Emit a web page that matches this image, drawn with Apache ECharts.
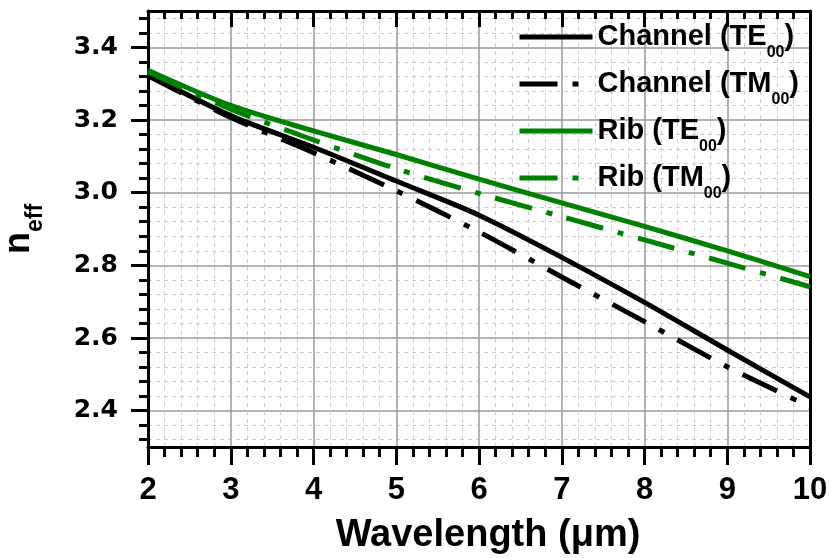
<!DOCTYPE html>
<html><head><meta charset="utf-8">
<script src="https://cdn.jsdelivr.net/npm/echarts@6/dist/echarts.min.js"></script>
<style>html,body{margin:0;padding:0;background:#fff}#c{width:830px;height:558px}</style>
</head><body><div id="c"></div>
<script>
const wavelengths = [2, 3, 4, 5, 6, 7, 8, 9, 10];
const channelTE = [3.325, 3.212, 3.125, 3.032, 2.938, 2.822, 2.698, 2.567, 2.438];
const channelTM = [3.322, 3.207, 3.110, 3.005, 2.892, 2.768, 2.645, 2.521, 2.411];
const ribTE = [3.337, 3.240, 3.170, 3.105, 3.037, 2.972, 2.907, 2.840, 2.769];
const ribTM = [3.333, 3.230, 3.145, 3.066, 2.998, 2.934, 2.870, 2.806, 2.741];
const seriesNames = ['Channel (TE00)', 'Channel (TM00)', 'Rib (TE00)', 'Rib (TM00)'];
const yMajorTicks = [2.4, 2.6, 2.8, 3.0, 3.2, 3.4];
const yMinorTicks = [2.32, 2.36, 2.44, 2.48, 2.52, 2.56, 2.64, 2.68, 2.72, 2.76, 2.84, 2.88, 2.92, 2.96,
  3.04, 3.08, 3.12, 3.16, 3.24, 3.28, 3.32, 3.36, 3.44, 3.48];
const xTitle = 'Wavelength (\u03bcm)';

const BLACK = '#000000', GREEN = '#008000';
const DASHDOT = [38, 15, 6, 15];
const FONT = 'Liberation Sans';

function mk(name, vals, color, dashed) {
  return {
    name: name, type: 'line', symbol: 'none', xAxisIndex: 0, yAxisIndex: 0,
    smooth: 0.3,
    data: wavelengths.map((x, i) => [x, vals[i]]),
    lineStyle: { color: color, width: 5, type: dashed ? DASHDOT : 'solid', cap: 'butt', join: 'round' },
    itemStyle: { color: color },
    emphasis: { disabled: true }
  };
}

const chart = echarts.init(document.getElementById('c'), null, { renderer: 'canvas' });
const axisLineStyle = { color: BLACK, width: 3 };
chart.setOption({
  animation: false,
  backgroundColor: '#fff',
  grid: { left: 148, right: 20, top: 11, bottom: 111, containLabel: false, outerBoundsMode: 'none' },
  legend: {
    orient: 'vertical', left: 517, top: 13, padding: 0,
    itemWidth: 73, itemHeight: 2, itemGap: -1,
    selectedMode: false,
    itemStyle: { opacity: 0 },
    lineStyle: { width: 5 },
    data: seriesNames,
    formatter: function (n) {
      const m = n.match(/^(.*)00\)$/);
      return '{a|' + m[1] + '}{s|00}{a|)}';
    },
    textStyle: {
      rich: {
        a: { fontFamily: FONT, fontWeight: 'bold', fontSize: 29, lineHeight: 32, color: BLACK },
        s: { fontFamily: FONT, fontWeight: 'bold', fontSize: 16, lineHeight: 16, padding: [32, 0, 0, 0], color: BLACK }
      }
    }
  },
  xAxis: [
    {
      type: 'value', position: 'bottom', min: 2, max: 10, interval: 1,
      name: xTitle, nameLocation: 'middle', nameGap: 69,
      nameTextStyle: { fontFamily: FONT, fontWeight: 'bold', fontSize: 38, lineHeight: 40, color: BLACK, padding: [0, 0, 0, 18] },
      axisLine: { show: true, onZero: false, lineStyle: axisLineStyle },
      axisTick: { show: true, length: 18, lineStyle: { color: BLACK, width: 3 } },
      minorTick: { show: true, splitNumber: 5, length: 10, lineStyle: { color: BLACK, width: 3 } },
      axisLabel: { margin: 27, fontFamily: FONT, fontWeight: 'bold', fontSize: 31, lineHeight: 32, color: BLACK },
      splitLine: { show: true, lineStyle: { color: '#9a9a9a', width: 1.5 } },
      minorSplitLine: { show: true, lineStyle: { color: '#cccccc', width: 1, type: [4, 4] } }
    },
    {
      type: 'value', position: 'top', min: 2, max: 10, interval: 1,
      axisLine: { show: true, onZero: false, lineStyle: axisLineStyle },
      axisTick: { show: true, inside: true, length: 16, lineStyle: { color: BLACK, width: 3 } },
      minorTick: { show: true, splitNumber: 5, length: 8, lineStyle: { color: BLACK, width: 3 } },
      axisLabel: { show: false },
      splitLine: { show: false }
    }
  ],
  yAxis: [
    {
      type: 'value', position: 'left', min: 2.3, max: 3.5,
      name: '{n|n}{s|eff}', nameLocation: 'middle', nameGap: 109,
      nameTextStyle: {
        rich: {
          n: { fontFamily: FONT, fontWeight: 'bold', fontSize: 36, lineHeight: 40, color: BLACK },
          s: { fontFamily: FONT, fontWeight: 'bold', fontSize: 23, lineHeight: 22, padding: [34, 0, 0, 0], color: BLACK }
        }
      },
      axisLine: { show: true, onZero: false, lineStyle: axisLineStyle },
      axisTick: { show: true, customValues: yMajorTicks, length: 17, lineStyle: { color: BLACK, width: 3 } },
      axisLabel: {
        customValues: yMajorTicks, margin: 30,
        formatter: v => Number(v).toFixed(1),
        fontFamily: 'DejaVu Sans', fontWeight: 'bold', fontSize: 25, color: BLACK
      },
      splitLine: { show: true, lineStyle: { color: '#9a9a9a', width: 1.5 } }
    },
    {
      type: 'value', position: 'left', min: 2.3, max: 3.5,
      axisLine: { show: false, onZero: false },
      axisTick: { show: true, customValues: yMinorTicks, length: 9, lineStyle: { color: BLACK, width: 3 } },
      axisLabel: { show: false, customValues: yMinorTicks },
      splitLine: { show: true, lineStyle: { color: '#cccccc', width: 1, type: [4, 4] } }
    },
    {
      type: 'value', position: 'right', min: 2.3, max: 3.5,
      axisLine: { show: true, onZero: false, lineStyle: axisLineStyle },
      axisTick: { show: false },
      axisLabel: { show: false },
      splitLine: { show: false }
    }
  ],
  series: [
    mk(seriesNames[0], channelTE, BLACK, false),
    mk(seriesNames[1], channelTM, BLACK, true),
    mk(seriesNames[2], ribTE, GREEN, false),
    mk(seriesNames[3], ribTM, GREEN, true)
  ]
});
</script>
</body></html>
